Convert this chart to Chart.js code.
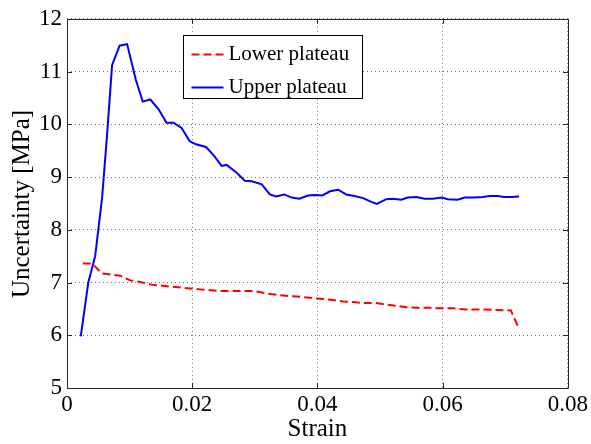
<!DOCTYPE html>
<html>
<head>
<meta charset="utf-8">
<script src="https://cdn.jsdelivr.net/npm/chart.js@4.4.0/dist/chart.umd.min.js"></script>
<style>
  html, body { margin: 0; padding: 0; background: #fff; }
</style>
</head>
<body>
<canvas id="c" width="591" height="444"></canvas>
<script>
// ---- data ----
const xTicks = [0, 0.02, 0.04, 0.06, 0.08];
const xTickLabels = ["0", "0.02", "0.04", "0.06", "0.08"];
const yTicks = [5, 6, 7, 8, 9, 10, 11, 12];
const yTickLabels = ["5", "6", "7", "8", "9", "10", "11", "12"];

const seriesNames = ["Lower plateau", "Upper plateau"];

const lowerStrain = [0.0025, 0.0040, 0.0056, 0.0072, 0.0085, 0.0101, 0.0117, 0.0135, 0.0159, 0.0186,
  0.0212, 0.0244, 0.0276, 0.0297, 0.0321, 0.0340, 0.0356, 0.0372, 0.0388, 0.0406,
  0.0425, 0.0441, 0.0457, 0.0475, 0.0494, 0.0510, 0.0526, 0.0542, 0.0560, 0.0579,
  0.0595, 0.0616, 0.0637, 0.0659, 0.0685, 0.0709, 0.0721];
const lowerValues = [7.36, 7.36, 7.17, 7.15, 7.13, 7.04, 7.01, 6.96, 6.93, 6.90,
  6.87, 6.84, 6.84, 6.84, 6.79, 6.76, 6.74, 6.73, 6.71, 6.69,
  6.67, 6.64, 6.63, 6.61, 6.61, 6.58, 6.56, 6.53, 6.52, 6.52,
  6.51, 6.51, 6.49, 6.49, 6.48, 6.47, 6.15];

const upperStrain = [0.0022, 0.0034, 0.0045, 0.0056, 0.0064, 0.0072, 0.0084, 0.0096, 0.0110, 0.0121,
  0.0133, 0.0146, 0.0159, 0.0170, 0.0183, 0.0196, 0.0206, 0.0222, 0.0235, 0.0247,
  0.0255, 0.0271, 0.0284, 0.0295, 0.0311, 0.0324, 0.0334, 0.0347, 0.0359, 0.0371,
  0.0385, 0.0396, 0.0408, 0.0420, 0.0433, 0.0446, 0.0459, 0.0473, 0.0486, 0.0495,
  0.0510, 0.0520, 0.0534, 0.0544, 0.0558, 0.0571, 0.0584, 0.0599, 0.0608, 0.0624,
  0.0635, 0.0651, 0.0664, 0.0675, 0.0688, 0.0698, 0.0709, 0.0722];
const upperValues = [5.98, 7.00, 7.50, 8.60, 9.80, 11.12, 11.49, 11.52, 10.84, 10.43,
  10.47, 10.29, 10.03, 10.03, 9.93, 9.68, 9.62, 9.57, 9.40, 9.21,
  9.23, 9.08, 8.93, 8.92, 8.86, 8.67, 8.63, 8.67, 8.61, 8.59,
  8.65, 8.66, 8.65, 8.73, 8.76, 8.67, 8.64, 8.60, 8.53, 8.49,
  8.58, 8.59, 8.57, 8.61, 8.62, 8.59, 8.59, 8.61, 8.58, 8.57,
  8.61, 8.61, 8.62, 8.64, 8.64, 8.62, 8.62, 8.63];

const SERIF = "'Liberation Serif', 'Times New Roman', serif";
Chart.defaults.font.family = SERIF;
Chart.defaults.color = "#000";

const toPoints = (xs, ys) => xs.map((x, i) => ({ x, y: ys[i] }));

// MATLAB-style box with short inward ticks on all four sides
const framePlugin = {
  id: "frame",
  afterDatasetsDraw(chart) {
    const { ctx, chartArea: a, scales } = chart;
    const len = 5;
    ctx.save();
    ctx.strokeStyle = "#262626";
    ctx.lineWidth = 1;
    ctx.beginPath();
    ctx.rect(Math.round(a.left) + 0.5, Math.round(a.top) + 0.5,
      Math.round(a.right - a.left), Math.round(a.bottom - a.top));
    xTicks.forEach((v) => {
      const px = Math.round(scales.x.getPixelForValue(v)) + 0.5;
      ctx.moveTo(px, a.bottom); ctx.lineTo(px, a.bottom - len);
      ctx.moveTo(px, a.top); ctx.lineTo(px, a.top + len);
    });
    yTicks.forEach((v) => {
      const py = Math.round(scales.y.getPixelForValue(v)) + 0.5;
      ctx.moveTo(a.left, py); ctx.lineTo(a.left + len, py);
      ctx.moveTo(a.right, py); ctx.lineTo(a.right - len, py);
    });
    ctx.stroke();
    ctx.restore();
  },
};

// rotated y title, drawn by hand so its spot can be tuned
const yTitlePlugin = {
  id: "yTitle",
  afterDraw(chart) {
    const { ctx } = chart;
    ctx.save();
    ctx.translate(22, 204);
    ctx.rotate(-Math.PI / 2);
    ctx.font = "25px " + SERIF;
    ctx.fillStyle = "#000";
    ctx.textAlign = "center";
    ctx.textBaseline = "middle";
    ctx.fillText("Uncertainty [MPa]", 0, 0);
    ctx.restore();
  },
};

// boxed legend inside the plot, upper middle
const legendPlugin = {
  id: "boxLegend",
  afterDraw(chart) {
    const { ctx, chartArea: a } = chart;
    const left = Math.round(a.left) + 116.5, top = Math.round(a.top) + 16.5;
    const w = 179, h = 63;
    ctx.save();
    ctx.fillStyle = "#fff";
    ctx.fillRect(left, top, w, h);
    ctx.strokeStyle = "#000";
    ctx.lineWidth = 1;
    ctx.strokeRect(left, top, w, h);
    ctx.font = "21px " + SERIF;
    ctx.textBaseline = "middle";
    chart.data.datasets.forEach((ds, i) => {
      const y = top + 19 + i * 33;
      ctx.strokeStyle = ds.borderColor;
      ctx.lineWidth = ds.borderWidth;
      ctx.setLineDash(ds.borderDash || []);
      ctx.beginPath();
      ctx.moveTo(left + 8, y);
      ctx.lineTo(left + 40, y);
      ctx.stroke();
      ctx.setLineDash([]);
      ctx.fillStyle = "#000";
      ctx.fillText(ds.label, left + 45, y);
    });
    ctx.restore();
  },
};

new Chart(document.getElementById("c"), {
  type: "line",
  data: {
    datasets: [
      {
        label: seriesNames[0],
        data: toPoints(lowerStrain, lowerValues),
        borderColor: "#ff0000",
        borderWidth: 2,
        borderDash: [8, 4],
        pointRadius: 0,
        fill: false,
      },
      {
        label: seriesNames[1],
        data: toPoints(upperStrain, upperValues),
        borderColor: "#0000ff",
        borderWidth: 2,
        pointRadius: 0,
        fill: false,
      },
    ],
  },
  options: {
    responsive: false,
    animation: false,
    layout: { padding: { top: 15, right: 23, left: 0, bottom: 0 } },
    plugins: { legend: { display: false }, tooltip: { enabled: false } },
    scales: {
      x: {
        type: "linear",
        min: 0,
        max: 0.08,
        afterBuildTicks: (s) => { s.ticks = xTicks.map((v) => ({ value: v })); },
        afterFit: (s) => { s.height = 56; },
        ticks: {
          font: { size: 23 },
          padding: 3,
          maxRotation: 0,
          callback: (v) => xTickLabels[xTicks.indexOf(v)] ?? "",
        },
        grid: { color: "#6e6e6e", lineWidth: 1, drawTicks: false },
        border: { display: false, dash: [1, 3] },
        title: { display: true, text: "Strain", font: { size: 25 }, padding: { top: 0, bottom: 0 } },
      },
      y: {
        type: "linear",
        min: 5,
        max: 12,
        afterBuildTicks: (s) => { s.ticks = yTicks.map((v) => ({ value: v })); },
        afterFit: (s) => { s.width = 67; },
        ticks: {
          font: { size: 23 },
          padding: 5,
          callback: (v) => yTickLabels[yTicks.indexOf(v)] ?? "",
        },
        grid: { color: "#6e6e6e", lineWidth: 1, drawTicks: false },
        border: { display: false, dash: [1, 3] },
      },
    },
  },
  plugins: [framePlugin, yTitlePlugin, legendPlugin],
});
</script>
</body>
</html>
